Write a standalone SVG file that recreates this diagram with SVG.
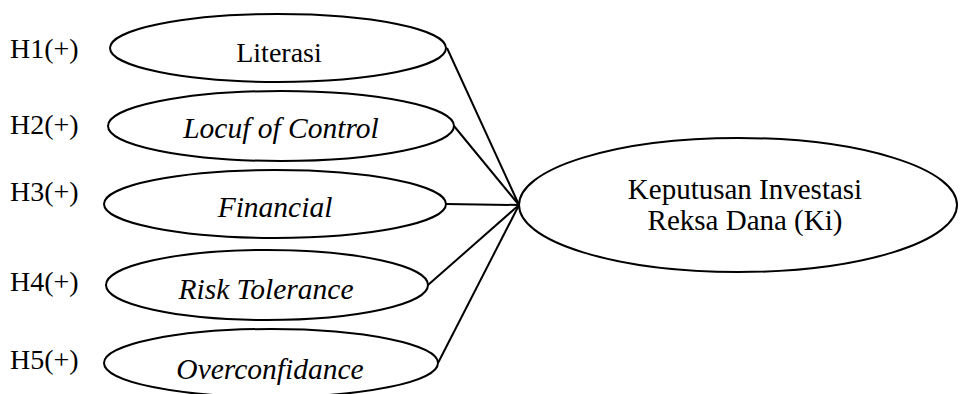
<svg xmlns="http://www.w3.org/2000/svg" width="960" height="394" viewBox="0 0 960 394">
<style>
.n{fill:#fff;stroke:#000;stroke-width:2}
.t{font-family:"Liberation Serif","Times New Roman",serif;font-size:28px;fill:#000}
.c{text-anchor:middle}
.i{font-style:italic;font-size:29.5px}
.b{font-size:29px}
.e{stroke:#000;stroke-width:2;fill:none}
</style>
<rect width="960" height="394" fill="#fff"/>
<g id="labels">
<text class="t" x="10" y="58">H1(+)</text>
<text class="t" x="10" y="134">H2(+)</text>
<text class="t" x="10" y="201">H3(+)</text>
<text class="t" x="10" y="291">H4(+)</text>
<text class="t" x="10" y="369">H5(+)</text>
</g>
<g id="edges">
<line class="e" x1="447" y1="48" x2="519" y2="205"/>
<line class="e" x1="454" y1="126" x2="519" y2="205"/>
<line class="e" x1="446" y1="204" x2="519" y2="205"/>
<line class="e" x1="428" y1="285" x2="519" y2="205"/>
<line class="e" x1="438" y1="363" x2="519" y2="205"/>
</g>
<g id="literasi"><ellipse class="n" cx="278" cy="48" rx="168" ry="34"/><text class="t c" x="279" y="62">Literasi</text></g>
<g id="locus"><ellipse class="n" cx="281" cy="126" rx="173" ry="35"/><text class="t c i" x="281" y="138">Locuf of Control</text></g>
<g id="financial"><ellipse class="n" cx="275" cy="204" rx="171" ry="34"/><text class="t c i" x="275" y="217">Financial</text></g>
<g id="risk"><ellipse class="n" cx="267" cy="285" rx="161" ry="35"/><text class="t c i" x="266" y="299">Risk Tolerance</text></g>
<g id="over"><ellipse class="n" cx="271" cy="363" rx="167" ry="34"/><text class="t c i" x="270" y="379">Overconfidance</text></g>
<g id="keputusan"><ellipse class="n" cx="738" cy="205" rx="219" ry="67"/><text class="t c b" x="745" y="199">Keputusan Investasi</text><text class="t c b" x="745" y="230">Reksa Dana (Ki)</text></g>
</svg>
